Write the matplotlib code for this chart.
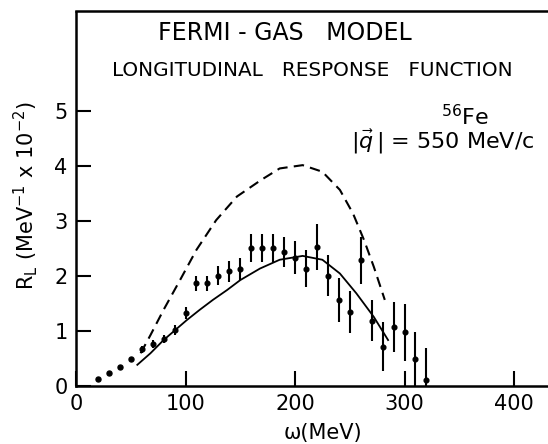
import matplotlib
matplotlib.use('Agg')
import matplotlib.pyplot as plt
import numpy as np

# measured points with error bars
omega_data = [60, 70, 80, 90, 100, 110, 120, 130, 140, 150, 160, 170, 180, 190,
              200, 210, 220, 230, 240, 250, 260, 270, 280, 290, 300, 310, 320]
R_data = [0.66, 0.76, 0.85, 1.02, 1.32, 1.86, 1.86, 2.00, 2.08, 2.12, 2.50, 2.50,
          2.50, 2.43, 2.33, 2.13, 2.52, 2.00, 1.55, 1.34, 2.28, 1.18, 0.71, 1.07,
          0.97, 0.48, 0.10]
R_err = [0.06, 0.07, 0.08, 0.09, 0.11, 0.14, 0.14, 0.17, 0.19, 0.20, 0.25, 0.25,
         0.25, 0.27, 0.30, 0.33, 0.42, 0.37, 0.40, 0.38, 0.43, 0.37, 0.45, 0.45,
         0.52, 0.50, 0.59]

# low-omega points without error bars
omega_dots = [20, 30, 40, 50]
R_dots = [0.12, 0.24, 0.34, 0.48]

# solid curve
omega_solid = [56, 68, 80, 101, 113, 125, 138, 150, 168, 186, 207, 225, 241, 256, 272, 285]
R_solid = [0.38, 0.59, 0.83, 1.19, 1.38, 1.56, 1.74, 1.92, 2.13, 2.29, 2.36, 2.29,
           2.04, 1.68, 1.25, 0.83]

# dashed curve
omega_dash = [59, 68, 80, 95, 110, 128, 147, 169, 186, 207, 225, 241, 253, 263, 272, 282]
R_dash = [0.59, 0.92, 1.38, 1.92, 2.47, 3.01, 3.44, 3.74, 3.95, 4.01, 3.89, 3.56,
          3.13, 2.65, 2.16, 1.56]

W, H = 548, 444
x0, y0 = 76, 385.7          # pixel position of the origin
px_x, px_y = 1.095, 55.0    # pixels per MeV, pixels per unit of R_L
fig = plt.figure(figsize=(W / 100, H / 100), dpi=100)
ax = fig.add_axes([x0 / W, 1 - y0 / H, (W - x0) / W, (y0 - 11.5) / H])

ax.plot(omega_solid, R_solid, '-', color='k', lw=1.3)
ax.plot(omega_dash, R_dash, color='k', lw=1.5, linestyle=(0, (5, 3)))
ax.errorbar(omega_data, R_data, yerr=R_err, fmt='o', color='k', ms=3.4,
            elinewidth=1.5, capsize=0)
ax.plot(omega_dots, R_dots, 'o', color='k', ms=3.6)

ax.set_xlim(0, (W - x0) / px_x)
ax.set_ylim(0, (y0 - 11.5) / px_y)
ax.set_xticks([0, 100, 200, 300, 400])
ax.set_yticks([0, 1, 2, 3, 4, 5])
ax.tick_params(direction='in', length=11, width=1.5, labelsize=15, pad=6)
for s in ['left', 'bottom', 'top']:
    ax.spines[s].set_linewidth(1.8)
ax.spines['right'].set_visible(False)

fig.text(25.5 / W, 1 - 196 / H, r'R$_\mathrm{L}$ (MeV$^{-1}$ x 10$^{-2}$)', fontsize=15,
         rotation=90, ha='center', va='center')
fig.text(323 / W, 1 - 433 / H, 'ω(MeV)', fontsize=15, ha='center', va='center')

fig.text(285 / W, 1 - 33 / H, 'FERMI - GAS   MODEL', fontsize=17, ha='center', va='center')
fig.text(312 / W, 1 - 70 / H, 'LONGITUDINAL   RESPONSE   FUNCTION', fontsize=14.4,
         ha='center', va='center')
fig.text(465 / W, 1 - 117 / H, r'$^{56}$Fe', fontsize=16, ha='center', va='center')
fig.text(443 / W, 1 - 142 / H, r'$|\vec{q}\,|$ = 550 MeV/c', fontsize=16,
         ha='center', va='center')

fig.savefig('out.png', dpi=100)
